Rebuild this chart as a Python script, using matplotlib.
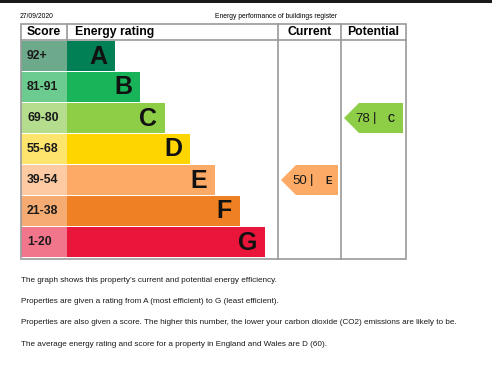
import matplotlib
matplotlib.use("Agg")
import matplotlib.pyplot as plt
from matplotlib.patches import Rectangle, Polygon

plt.rcParams['font.family'] = ['Liberation Sans', 'DejaVu Sans']

## chart data
bands = ['A', 'B', 'C', 'D', 'E', 'F', 'G']
score_ranges = ['92+', '81-91', '69-80', '55-68', '39-54', '21-38', '1-20']
bar_colors = ['#008054', '#19b459', '#8dce46', '#ffd500', '#fcaa65', '#ef8023', '#e9153b']
score_colors = ['#6daa8b', '#6ccb8f', '#b4de8e', '#fde46c', '#fdcaa3', '#f5ab72', '#f2768b']
current_score, current_band = 50, 'E'
potential_score, potential_band = 78, 'C'
date_text = '27/09/2020'
title_text = 'Energy performance of buildings register'
notes = [
    "The graph shows this property\u2019s current and potential energy efficiency.",
    "Properties are given a rating from A (most efficient) to G (least efficient).",
    "Properties are also given a score. The higher this number, the lower your carbon dioxide (CO2) emissions are likely to be.",
    "The average energy rating and score for a property in England and Wales are D (60).",
]

W, H = 492, 366
fig = plt.figure(figsize=(W / 100, H / 100), dpi=100)
ax = fig.add_axes([0, 0, 1, 1])
ax.set_xlim(0, W)
ax.set_ylim(H, 0)
ax.axis('off')

# black strip at the very top
ax.add_patch(Rectangle((0, 0), W, 3, color='#1a1a1a', lw=0))

ax.text(20, 16, date_text, fontsize=4.9, va='center', ha='left')
ax.text(276, 16, title_text, fontsize=4.85, va='center', ha='center')

# table geometry
left, right, top, bottom = 21, 406, 24, 259
col_score, col_cur, col_pot = 67, 278, 341
head_bot = 40
row_h = 31
grid = '#9a9a9a'

for i, band in enumerate(bands):
    y0 = head_bot + i * row_h + 0.5
    h = row_h - 1
    ax.add_patch(Rectangle((left, y0), col_score - left, h, color=score_colors[i], lw=0))
    bar_end = 115 + 25 * i
    ax.add_patch(Rectangle((col_score, y0), bar_end - col_score, h, color=bar_colors[i], lw=0))
    ax.text(27, y0 + h / 2 + 0.5, score_ranges[i], fontsize=8.8, fontweight='bold',
            va='center', ha='left', color='#1a1a1a')
    ax.text(bar_end - 8, y0 + h / 2 + 1, band, fontsize=18, fontweight='bold',
            va='center', ha='right', color='#111111')

# borders
ax.add_patch(Rectangle((left, top), right - left, bottom - top, fill=False, ec=grid, lw=1.2))
ax.plot([left, right], [head_bot, head_bot], color=grid, lw=1.2)
ax.plot([col_score, col_score], [top, head_bot], color=grid, lw=1.2)
for x in (col_cur, col_pot):
    ax.plot([x, x], [top, bottom], color=grid, lw=1.2)

# headers
ax.text((left + col_score) / 2, 32, 'Score', fontsize=8.8, fontweight='bold', ha='center', va='center')
ax.text(75, 32, 'Energy rating', fontsize=8.8, fontweight='bold', ha='left', va='center')
ax.text((col_cur + col_pot) / 2, 32, 'Current', fontsize=8.8, fontweight='bold', ha='center', va='center')
ax.text((col_pot + right) / 2, 32, 'Potential', fontsize=8.8, fontweight='bold', ha='center', va='center')


## draws the arrow marker with score and band inside the given column
def draw_marker(score, band, col_left, col_right):
    i = bands.index(band)
    y0 = head_bot + i * row_h + 1
    y1 = y0 + row_h - 1
    mid = (y0 + y1) / 2
    tip = col_left + 3
    body = tip + 15
    end = col_right - 3
    ax.add_patch(Polygon([(tip, mid), (body, y0), (end, y0), (end, y1), (body, y1)],
                         closed=True, color=bar_colors[i], lw=0))
    ax.text(body - 4, mid + 1, str(score), fontsize=9.5, ha='left', va='center', color='#1a1a1a')
    ax.text(body + 16, mid + 0.5, '|', fontsize=9.5, ha='center', va='center', color='#1a1a1a')
    ax.text(body + 29, mid + 1, band, fontsize=7, fontweight='bold', ha='left', va='center', color='#1a1a1a')


draw_marker(current_score, current_band, col_cur, col_pot)
draw_marker(potential_score, potential_band, col_pot, right)

for k, line in enumerate(notes):
    ax.text(21, 280 + k * 21.5, line, fontsize=5.85, ha='left', va='center', color='#1a1a1a')

fig.savefig('out.png', dpi=100)
